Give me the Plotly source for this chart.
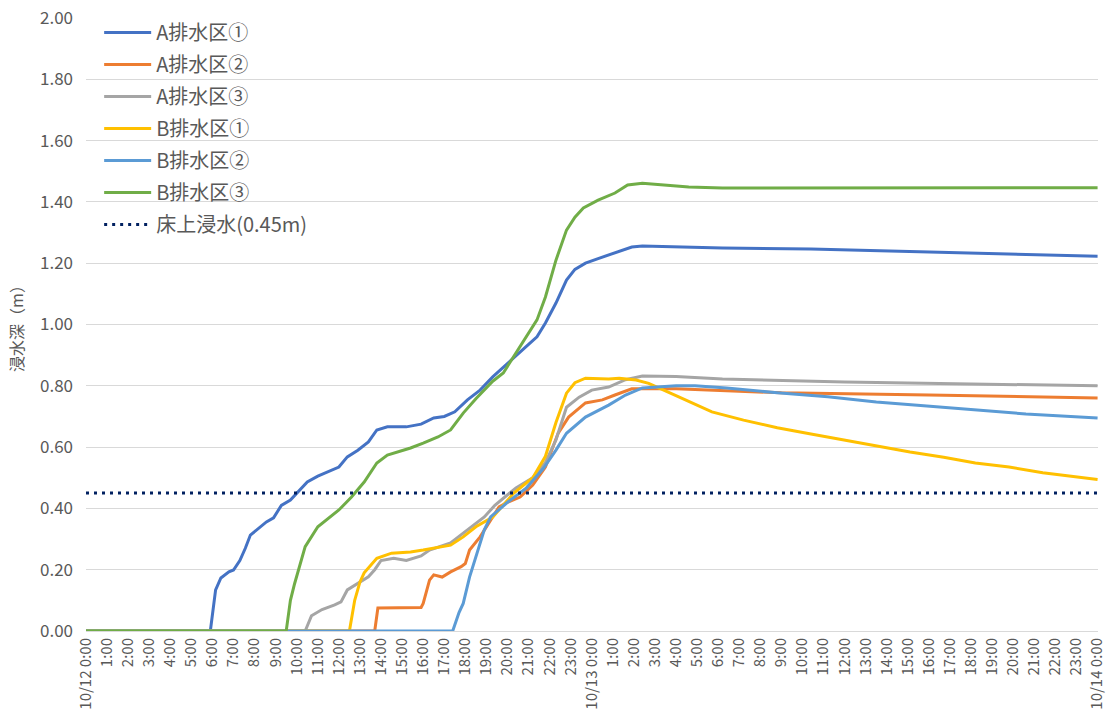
import plotly.graph_objects as go

# Hours elapsed since 10/12 0:00 and water depth (m) per drainage district
a1_hours = [0, 5.9, 6.15, 6.4, 6.78, 7.0, 7.3, 7.56, 7.8, 8.1, 8.56, 8.9, 9.27, 9.7, 10.07, 10.5,
            11.0, 11.5, 12.0, 12.4, 12.9, 13.4, 13.8, 14.3, 15.2, 15.9, 16.5, 17.0, 17.5, 18.1,
            18.7, 19.3, 19.6, 20.4, 21.0, 21.4, 21.8, 22.3, 22.8, 23.2, 23.7, 24.3, 25.1, 25.9,
            26.4, 28.0, 30.2, 34.4, 38.0, 42.2, 48.0]
a1_depth = [0, 0, 0.134, 0.173, 0.193, 0.199, 0.23, 0.27, 0.313, 0.33, 0.356, 0.369, 0.41, 0.427,
            0.453, 0.486, 0.505, 0.519, 0.535, 0.568, 0.59, 0.617, 0.656, 0.666, 0.666, 0.675,
            0.695, 0.70, 0.715, 0.754, 0.786, 0.829, 0.848, 0.90, 0.935, 0.96, 1.005, 1.07, 1.145,
            1.18, 1.20, 1.215, 1.233, 1.253, 1.256, 1.253, 1.25, 1.246, 1.24, 1.233, 1.223]

a2_hours = [0, 13.7, 13.85, 15.9, 16.0, 16.3, 16.5, 16.9, 17.3, 17.8, 18.0, 18.2, 18.7, 19.2,
            19.6, 20.0, 20.6, 21.2, 21.8, 22.4, 22.9, 23.7, 24.5, 25.1, 25.9, 28.0, 33.0, 40.0, 48.0]
a2_depth = [0, 0, 0.075, 0.077, 0.09, 0.166, 0.183, 0.176, 0.193, 0.21, 0.22, 0.264, 0.307, 0.362,
            0.405, 0.42, 0.437, 0.476, 0.535, 0.645, 0.698, 0.744, 0.754, 0.77, 0.79, 0.79, 0.777,
            0.77, 0.76]

a3_hours = [0, 10.4, 10.7, 11.2, 11.8, 12.1, 12.4, 12.9, 13.4, 13.7, 14.0, 14.6, 15.2, 15.9, 16.3,
            17.3, 18.1, 18.9, 19.4, 20.4, 21.2, 21.8, 22.3, 22.8, 23.4, 24.0, 24.8, 25.6, 26.4,
            28.0, 30.2, 36.0, 42.0, 48.0]
a3_depth = [0, 0, 0.05, 0.07, 0.085, 0.095, 0.134, 0.155, 0.177, 0.20, 0.23, 0.237, 0.23, 0.245,
            0.264, 0.287, 0.33, 0.372, 0.41, 0.467, 0.50, 0.55, 0.623, 0.73, 0.763, 0.786, 0.796,
            0.82, 0.832, 0.83, 0.822, 0.812, 0.806, 0.80]

b1_hours = [0, 12.5, 12.75, 13.0, 13.2, 13.8, 14.5, 15.4, 16.0, 16.8, 17.3, 17.9, 18.5, 19.3, 20.3,
            21.2, 21.8, 22.3, 22.8, 23.2, 23.7, 24.8, 25.3, 26.1, 26.7, 28.1, 29.7, 31.2, 32.8,
            34.4, 36.0, 37.5, 39.1, 40.7, 42.2, 43.8, 45.4, 48.0]
b1_depth = [0, 0, 0.10, 0.16, 0.19, 0.237, 0.254, 0.258, 0.264, 0.274, 0.28, 0.307, 0.34, 0.372,
            0.45, 0.50, 0.57, 0.68, 0.776, 0.81, 0.825, 0.822, 0.825, 0.819, 0.808, 0.765, 0.715,
            0.688, 0.663, 0.643, 0.623, 0.604, 0.584, 0.567, 0.548, 0.535, 0.516, 0.494]

b2_hours = [0, 17.4, 17.7, 17.9, 18.2, 18.4, 18.7, 18.9, 19.2, 20.0, 20.9, 21.7, 22.3, 22.8, 23.7,
            24.8, 25.6, 26.4, 28.0, 28.9, 30.4, 32.8, 35.2, 37.5, 39.9, 42.2, 44.6, 48.0]
b2_depth = [0, 0, 0.06, 0.09, 0.176, 0.22, 0.287, 0.33, 0.372, 0.42, 0.467, 0.53, 0.59, 0.645,
            0.698, 0.737, 0.77, 0.793, 0.80, 0.80, 0.793, 0.777, 0.764, 0.747, 0.734, 0.721,
            0.708, 0.695]

b3_hours = [0, 9.5, 9.7, 9.9, 10.4, 11.0, 12.0, 12.6, 13.2, 13.8, 14.3, 15.4, 16.0, 16.7, 17.3,
            17.9, 18.5, 19.3, 19.8, 20.6, 21.4, 21.8, 22.3, 22.8, 23.2, 23.6, 24.3, 25.1, 25.7,
            26.4, 28.6, 30.2, 48.0]
b3_depth = [0, 0, 0.10, 0.155, 0.275, 0.34, 0.395, 0.437, 0.486, 0.548, 0.574, 0.597, 0.613,
            0.633, 0.656, 0.711, 0.758, 0.815, 0.842, 0.927, 1.015, 1.09, 1.21, 1.308, 1.35,
            1.38, 1.406, 1.429, 1.455, 1.461, 1.449, 1.445, 1.446]

floor_level = 0.45

series = [
    ("A排水区①", a1_hours, a1_depth, "#4472C4"),
    ("A排水区②", a2_hours, a2_depth, "#ED7D31"),
    ("A排水区③", a3_hours, a3_depth, "#A5A5A5"),
    ("B排水区①", b1_hours, b1_depth, "#FFC000"),
    ("B排水区②", b2_hours, b2_depth, "#5B9BD5"),
    ("B排水区③", b3_hours, b3_depth, "#70AD47"),
]

# Hourly tick labels across two days
tick_hours = list(range(0, 49))
tick_text = []
for h in tick_hours:
    day, hr = divmod(h, 24)
    tick_text.append(f"10/{12 + day} {hr}:00" if hr == 0 else f"{hr}:00")

FONT = "Noto Sans CJK JP, Roboto, sans-serif"
TXT = "#595959"

fig = go.Figure()
for i, (name, xs, ys, color) in enumerate(series):
    fig.add_trace(go.Scatter(
        x=xs, y=ys, name=name, mode="lines",
        line=dict(color=color, width=3),
        legendgroup=f"g{i}", cliponaxis=False,
    ))

fig.add_trace(go.Scatter(
    x=[0, 48], y=[floor_level, floor_level], name="床上浸水(0.45m)", mode="lines",
    line=dict(color="#002060", width=3, dash="3px,5px"),
    legendgroup="g6", cliponaxis=False,
))

fig.update_layout(
    width=1110, height=714,
    margin=dict(l=86, r=4, t=18, b=83),
    paper_bgcolor="white", plot_bgcolor="white",
    font=dict(family=FONT, color=TXT),
    showlegend=True,
    legend=dict(
        x=0.013, y=1.008, xanchor="left", yanchor="top",
        bgcolor="rgba(0,0,0,0)", font=dict(size=20, color=TXT, family=FONT),
        tracegroupgap=3, itemwidth=47, traceorder="grouped",
    ),
    xaxis=dict(
        range=[0, 48.02], tickmode="array", tickvals=tick_hours, ticktext=tick_text,
        tickangle=-90, tickfont=dict(size=15, color=TXT, family=FONT),
        ticklabeloverflow="allow",
        showgrid=False, zeroline=False, showline=True, linecolor="#D9D9D9", linewidth=1,
        ticks="",
    ),
    yaxis=dict(
        range=[0, 2.0], dtick=0.2, tickformat=".2f",
        tickfont=dict(size=17, color=TXT, family=FONT),
        gridcolor="#D9D9D9", gridwidth=1, zeroline=False, showline=False, ticks="",
        ticklabelstandoff=12,
        title=dict(text="浸水深（m）", font=dict(size=16, color=TXT, family=FONT), standoff=12),
    ),
)

fig.write_html("out.html")
